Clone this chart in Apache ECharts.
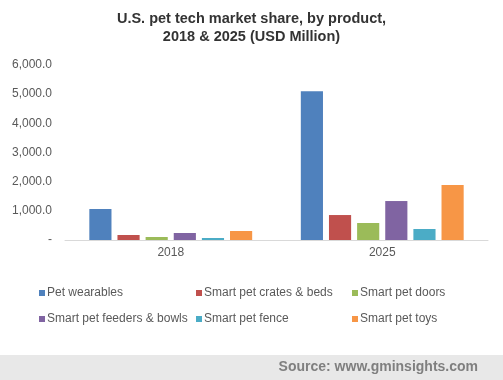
<!DOCTYPE html>
<html><head><meta charset="utf-8">
<script src="https://cdn.jsdelivr.net/npm/echarts@6/dist/echarts.min.js"></script>
<style>html,body{margin:0;padding:0;background:#fff}#c{width:503px;height:380px}</style>
</head><body><div id="c"></div>
<script>
const categories = ['2018', '2025'];
const seriesNames = ['Pet wearables', 'Smart pet crates & beds', 'Smart pet doors', 'Smart pet feeders & bowls', 'Smart pet fence', 'Smart pet toys'];
const petWearables = [1062, 5100];
const cratesBeds = [171, 856];
const petDoors = [103, 582];
const feedersBowls = [240, 1336];
const petFence = [68, 377];
const petToys = [308, 1884];
const colors = ['#4f81bd', '#c0504d', '#9bbb59', '#8064a2', '#4bacc6', '#f79646'];
const allValues = [petWearables, cratesBeds, petDoors, feedersBowls, petFence, petToys];

const legendCols = [39, 196, 352];
const legendRows = [287, 313];
const legends = seriesNames.map((n, i) => ({
  left: legendCols[i % 3], top: legendRows[Math.floor(i / 3)],
  itemWidth: 6, itemHeight: 6, itemGap: 0, icon: 'rect', padding: 0,
  textStyle: { fontFamily: 'Liberation Sans', fontSize: 12, color: '#595959', padding: [0, 0, 0, -3] },
  data: [n]
}));

const chart = echarts.init(document.getElementById('c'));
chart.setOption({
  animation: false,
  title: {
    text: 'U.S. pet tech market share, by product,\n2018 & 2025 (USD Million)',
    left: 'center', top: 5,
    textStyle: { fontFamily: 'Liberation Sans', fontSize: 14.5, fontWeight: 'bold', color: '#333', lineHeight: 18 }
  },
  legend: legends,
  grid: { left: 65, right: 15, top: 65, bottom: 140, containLabel: false },
  xAxis: {
    type: 'category', data: categories,
    axisLine: { lineStyle: { color: '#d9d9d9', width: 1 } },
    axisTick: { show: false },
    axisLabel: { fontFamily: 'Liberation Sans', fontSize: 12, color: '#595959', margin: 7 }
  },
  yAxis: {
    type: 'value', min: 0, max: 6000, interval: 1000,
    splitLine: { show: false },
    axisLine: { show: false }, axisTick: { show: false },
    axisLabel: {
      fontFamily: 'Liberation Sans', fontSize: 12, color: '#595959', margin: 13,
      formatter: v => v === 0 ? '-' : v.toLocaleString('en-US', { minimumFractionDigits: 1, maximumFractionDigits: 1 })
    }
  },
  series: seriesNames.map((n, i) => ({
    name: n, type: 'bar', data: allValues[i],
    itemStyle: { color: colors[i] },
    barGap: '27%', barCategoryGap: '23%'
  })),
  graphic: [
    { type: 'rect', shape: { x: 0, y: 355, width: 503, height: 25 }, style: { fill: '#e8e8e8' } },
    { type: 'text', right: 25, top: 360, style: { text: 'Source: www.gminsights.com', font: 'bold 14px "Liberation Sans"', fill: '#7f7f7f' } }
  ]
});
</script></body></html>
